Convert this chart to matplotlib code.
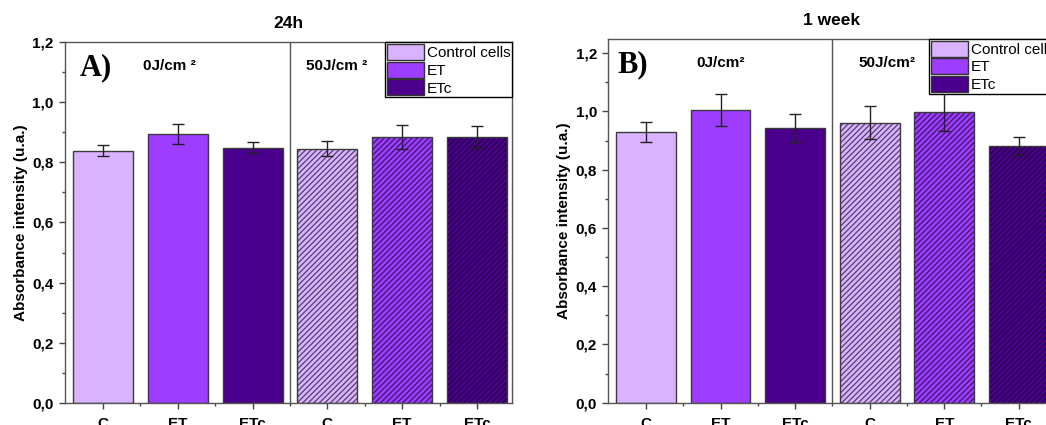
import matplotlib
matplotlib.use("Agg")
import matplotlib.pyplot as plt
from matplotlib.patches import Patch

# data
LABELS = ["C", "ET", "ETc", "C", "ET", "ETc"]
LEGEND = ["Control cells", "ET", "ETc"]
VALS_24H = [0.838, 0.894, 0.849, 0.845, 0.884, 0.884]
ERR_24H = [0.018, 0.032, 0.017, 0.025, 0.040, 0.036]
VALS_1W = [0.930, 1.005, 0.942, 0.962, 0.997, 0.882]
ERR_1W = [0.035, 0.055, 0.048, 0.056, 0.065, 0.032]

COLORS = ["#D9B3FF", "#9D3DFF", "#4A008C"]
SANS = ["Liberation Sans", "DejaVu Sans"]

plt.rcParams["font.family"] = SANS
plt.rcParams["hatch.linewidth"] = 0.9


def panel(ax, vals, errs, ymax, xmax, title, letter, doses, text_x, text_y):
    pos = list(range(1, len(vals) + 1))
    cols = COLORS + COLORS
    for i, (p, v, e) in enumerate(zip(pos, vals, errs)):
        hatched = i >= 3
        # fill + hatch (hatch color comes from edgecolor)
        ax.bar(p, v, width=0.8, color=cols[i],
               edgecolor=(0.05, 0.0, 0.12, 0.65) if hatched else cols[i],
               hatch="//////" if hatched else None, linewidth=0, zorder=2)
        # outline
        ax.bar(p, v, width=0.8, fill=False, edgecolor="#3a3a3a",
               linewidth=1.0, zorder=3)
        ax.errorbar(p, v, yerr=e, color="#222222", elinewidth=1.0,
                    capsize=4, capthick=1.0, zorder=4)

    ax.axvline(3.5, color="#555555", linewidth=1.0, zorder=1)
    ax.set_xlim(0.49, xmax)
    ax.set_ylim(0, ymax)
    ax.set_xticks(pos)
    ax.set_xticklabels(LABELS, fontweight="bold", fontsize=11)
    ax.set_xticks([1.5, 2.5, 3.5, 4.5, 5.5], minor=True)
    ticks = [0, 0.2, 0.4, 0.6, 0.8, 1.0, 1.2]
    ax.set_yticks(ticks)
    ax.set_yticklabels([f"{t:.1f}".replace(".", ",") for t in ticks],
                       fontweight="bold", fontsize=11)
    ax.set_yticks([0.1, 0.3, 0.5, 0.7, 0.9, 1.1], minor=True)
    ax.tick_params(which="major", length=4, width=1, color="#444444", pad=4)
    ax.tick_params(which="minor", length=2.5, width=1, color="#444444")
    ax.tick_params(axis="x", which="both", pad=6)
    for s in ax.spines.values():
        s.set_color("#555555")
        s.set_linewidth(1.0)

    ax.set_ylabel("Absorbance intensity (u.a.)", fontweight="bold",
                  fontsize=11, labelpad=3)
    ax.set_title(title, fontweight="bold", fontsize=12.5, pad=10)

    tr = ax.get_xaxis_transform()
    ax.text(text_x[0], text_y, letter, transform=tr,
            ha="left", va="center", fontsize=22, fontweight="bold",
            family=["Liberation Serif", "DejaVu Serif"])
    ax.text(text_x[1], text_y + 0.005, doses[0], transform=tr,
            ha="left", va="center", fontsize=11, fontweight="bold")
    ax.text(text_x[2], text_y + 0.005, doses[1], transform=tr,
            ha="left", va="center", fontsize=11, fontweight="bold")

    handles = [Patch(facecolor=c, edgecolor="#333333", linewidth=1.0)
               for c in COLORS]
    leg = ax.legend(handles, LEGEND, loc="upper right", fontsize=11,
                    frameon=True, fancybox=False, framealpha=1,
                    edgecolor="black", borderaxespad=0.0, borderpad=0.12,
                    handlelength=2.4, handleheight=1.25, handletextpad=0.2,
                    labelspacing=0.1)
    leg.get_frame().set_linewidth(1.0)
    leg.set_zorder(10)


fig = plt.figure(figsize=(10.46, 4.25), dpi=100)
ax1 = fig.add_axes([0.0621, 0.0518, 0.4274, 0.8494])
ax2 = fig.add_axes([0.5813, 0.0525, 0.4283, 0.8565])

panel(ax1, VALS_24H, ERR_24H, 1.2, 6.47, "24h", "A)",
      ("0J/cm \u00b2", "50J/cm \u00b2"), (0.69, 1.53, 3.72), 0.928)
panel(ax2, VALS_1W, ERR_1W, 1.25, 6.5, "1 week", "B)",
      ("0J/cm\u00b2", "50J/cm\u00b2"), (0.61, 1.68, 3.85), 0.928)

fig.savefig("out.png", dpi=100)
